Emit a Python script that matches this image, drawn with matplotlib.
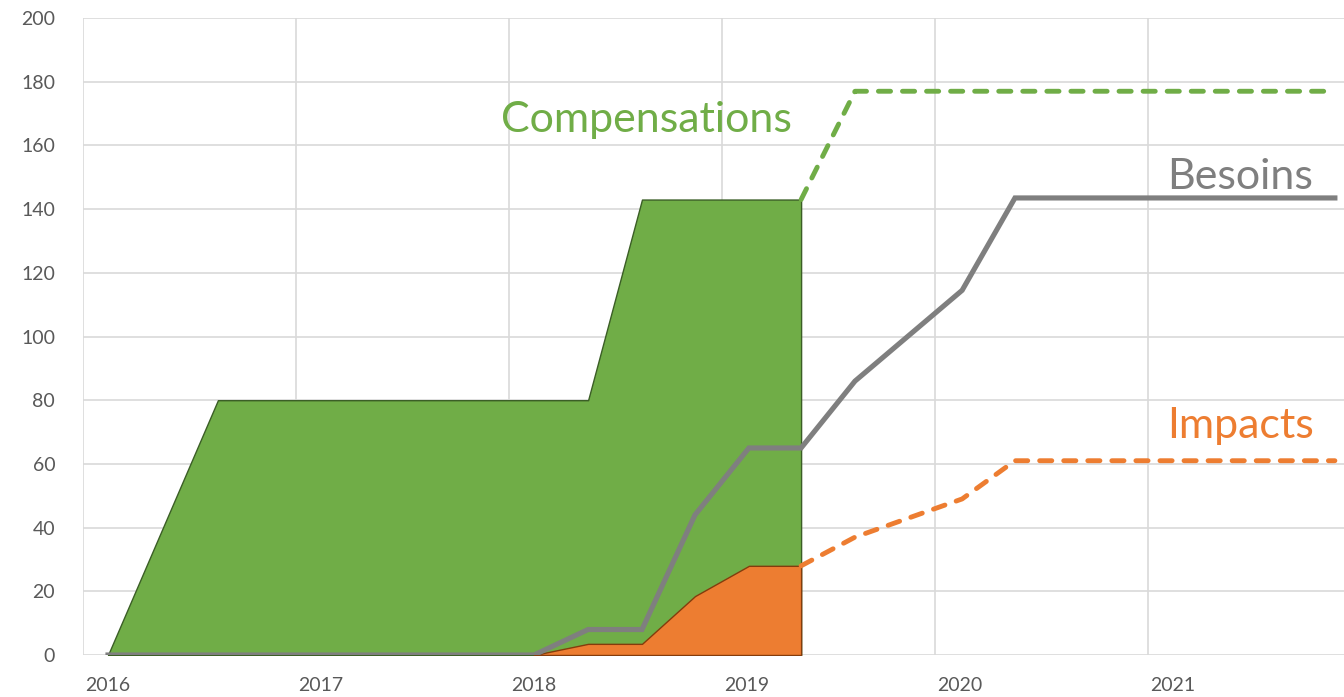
import matplotlib.pyplot as plt
import numpy as np

# fractional years
comp_x = [2016.0, 2016.516, 2018.254, 2018.507, 2019.254]
comp_y = [0, 80, 80, 143, 143]
comp_proj_x = [2019.254, 2019.507, 2021.76]
comp_proj_y = [143, 177, 177]

imp_x = [2018.0, 2018.254, 2018.507, 2018.756, 2019.009, 2019.254]
imp_y = [0, 3.5, 3.5, 18.5, 28, 28]
imp_proj_x = [2019.254, 2019.507, 2020.01, 2020.258, 2021.76]
imp_proj_y = [28, 37, 49, 61, 61]

bes_x = [2016.0, 2018.0, 2018.254, 2018.507, 2018.756, 2019.009, 2019.254,
         2019.507, 2020.01, 2020.258, 2021.76]
bes_y = [0, 0, 8, 8, 44, 65, 65, 86, 114.5, 143.5, 143.5]

years = [2016, 2017, 2018, 2019, 2020, 2021]
y_ticks = list(range(0, 201, 20))

GREEN = '#70AD47'
ORANGE = '#ED7D31'
GRAY = '#7F7F7F'

plt.rcParams['font.family'] = ['Lato', 'DejaVu Sans']

W, H = 1344, 697
fig = plt.figure(figsize=(W / 100, H / 100), dpi=100)
ax = fig.add_axes([83 / W, (H - 655) / H, (W - 83) / W, (655 - 18) / H])

x_left = 2016 - 25 / 213
x_right = 2016 + (W - 108) / 213
ax.set_xlim(x_left, x_right)
ax.set_ylim(0, 200)

# gridlines (vertical ones sit off the year labels, as in the source)
for g in np.arange(x_left, x_right, 1.0):
    ax.axvline(g, color='#D9D9D9', lw=1.2, zorder=0)
for t in y_ticks:
    ax.axhline(t, color='#D9D9D9', lw=1.2, zorder=0)

# areas
ax.fill_between(comp_x, comp_y, 0, facecolor=GREEN, edgecolor='#3B5E26',
                lw=1.0, zorder=2)
ax.fill_between(imp_x, imp_y, 0, facecolor=ORANGE, edgecolor='#843C0C',
                lw=1.0, zorder=3)

# lines
ax.plot(bes_x, bes_y, color=GRAY, lw=3.7, solid_joinstyle='miter', zorder=4)
dash = (0, (2.5, 2.45))
ax.plot(comp_proj_x, comp_proj_y, color=GREEN, lw=3.5, ls=dash,
        dash_capstyle='round', zorder=4)
ax.plot(imp_proj_x, imp_proj_y, color=ORANGE, lw=3.5, ls=dash,
        dash_capstyle='round', zorder=4)

# labels in the plot
ax.text(2018.53, 168, 'Compensations', color=GREEN, fontsize=31,
        ha='center', va='center')
ax.text(2021.315, 150, 'Besoins', color=GRAY, fontsize=31,
        ha='center', va='center')
ax.text(2021.315, 72, 'Impacts', color=ORANGE, fontsize=31,
        ha='center', va='center')

ax.set_xticks(years)
ax.set_xticklabels([str(y) for y in years])
ax.set_yticks(y_ticks)
ax.tick_params(axis='both', length=0, labelsize=14, labelcolor='#595959')
ax.tick_params(axis='x', pad=16)
ax.tick_params(axis='y', pad=20)

for s in ax.spines.values():
    s.set_visible(False)

fig.savefig('out.png', dpi=100)
